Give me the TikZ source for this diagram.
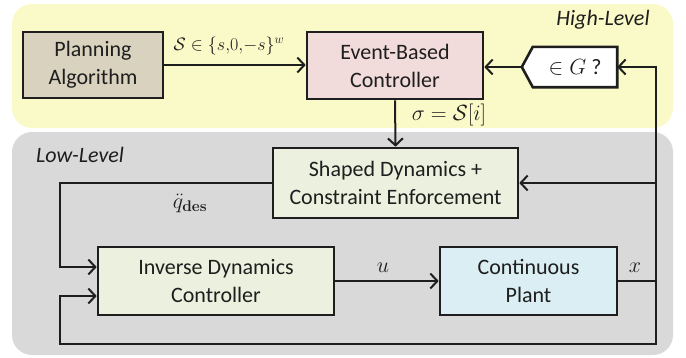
\documentclass[tikz,border=0pt]{standalone}
\usepackage{fix-cm}
\usepackage[no-math]{fontspec}
\setmainfont{Carlito}
\usetikzlibrary{arrows.meta,calc}

\definecolor{hiyellow}{RGB}{250,250,200}
\definecolor{logray}{RGB}{217,217,217}
\definecolor{plantan}{RGB}{217,210,190}
\definecolor{ctrlpink}{RGB}{242,220,219}
\definecolor{dyngreen}{RGB}{235,241,222}
\definecolor{plantblue}{RGB}{218,238,243}
\definecolor{ink}{RGB}{30,30,30}

\tikzset{
  block/.style={draw=ink, line width=2.6pt, align=center, inner sep=0pt,
    font=\fontsize{22}{28}\selectfont, text=ink},
  wire/.style={draw=ink, line width=2pt},
  arr/.style={wire, -{Straight Barb[length=7pt,width=15pt,line width=2pt]}},
  lbl/.style={font=\fontsize{22}{28}\selectfont, text=ink, inner sep=0pt},
  setlbl/.style={font=\fontsize{18}{22}\selectfont, text=ink, inner sep=0pt},
  zone/.style={font=\fontsize{22}{28}\selectfont\itshape, text=ink, inner sep=0pt},
}

\begin{document}
\begin{tikzpicture}[x=1pt, y=-1pt]
\useasboundingbox (0,0) rectangle (686,357);

% layer backgrounds
\fill[hiyellow, rounded corners=20pt] (12,4) rectangle (673,128);
\fill[logray, rounded corners=20pt] (12,132) rectangle (673,355);
\node[zone] (hilab) at (603,20) {High-Level};
\node[zone] (lolab) at (80,155) {Low-Level};

% blocks
\node[block, fill=plantan, minimum width=140pt, minimum height=66pt] (plan) at (93,65) {Planning\\Algorithm};
\node[block, fill=ctrlpink, minimum width=176pt, minimum height=67pt] (ebc) at (395,65.5) {Event-Based\\Controller};
\node[block, fill=dyngreen, minimum width=245pt, minimum height=70pt] (shaped) at (395.5,183) {Shaped Dynamics +\\Constraint Enforcement};
\node[block, fill=dyngreen, minimum width=236pt, minimum height=68pt] (inv) at (216,281) {Inverse Dynamics\\Controller};
\node[block, fill=plantblue, minimum width=177pt, minimum height=68pt] (plant) at (528.5,281) {Continuous\\Plant};

% goal test: pointed tag
\node[lbl, minimum width=84pt, minimum height=40pt] (goal) at (575,67) {};
\coordinate (goaltip) at ($(goal.west)+(-11,0)$);
\draw[draw=ink, fill=white, line width=2.6pt, line join=miter]
  (goal.north west) -- (goal.north east) -- (goal.south east) -- (goal.south west) -- (goaltip) -- cycle;
\node[lbl] (goaltxt) at (goal.center) {$\in G$ ?};

% feedback junctions
\coordinate (xj) at (656,281);
\coordinate (xtop) at (656,67);
\coordinate (xbot) at (656,344);
\coordinate (lbot) at (60,344);
\coordinate (ltop) at (60,183);

% connectors
\draw[arr] (plan.east) -- (ebc.west |- plan.east);
\node[setlbl] (slab) at (229,46) {$\mathcal{S}\in\{s{,}0{,}{-}s\}^w$};

\draw[arr] (goaltip) -- (goaltip -| ebc.east);
\draw[arr] (ebc.south) -- (shaped.north);
\node[lbl] (siglab) at (449,115) {$\sigma=\mathcal{S}[i]$};

\draw[wire] (plant.east) -- (xj);
\node[lbl] (xlab) at (635,268) {$x$};
\draw[arr] (xj) -- (xtop) -- (goal.east);
\draw[arr] (xj |- shaped.east) -- (shaped.east);
\draw[arr] (xj) -- (xbot) -- (lbot) -- (60,296) -- (inv.west |- 0,296);

\draw[arr] (shaped.west) -- (ltop) -- (60,267) -- (inv.west |- 0,267);
\node[lbl] (qlab) at (190,203) {$\ddot{q}_{\mathbf{des}}$};

\draw[arr] (inv.east) -- (plant.west);
\node[lbl] (ulab) at (383,268) {$u$};
\end{tikzpicture}
\end{document}
